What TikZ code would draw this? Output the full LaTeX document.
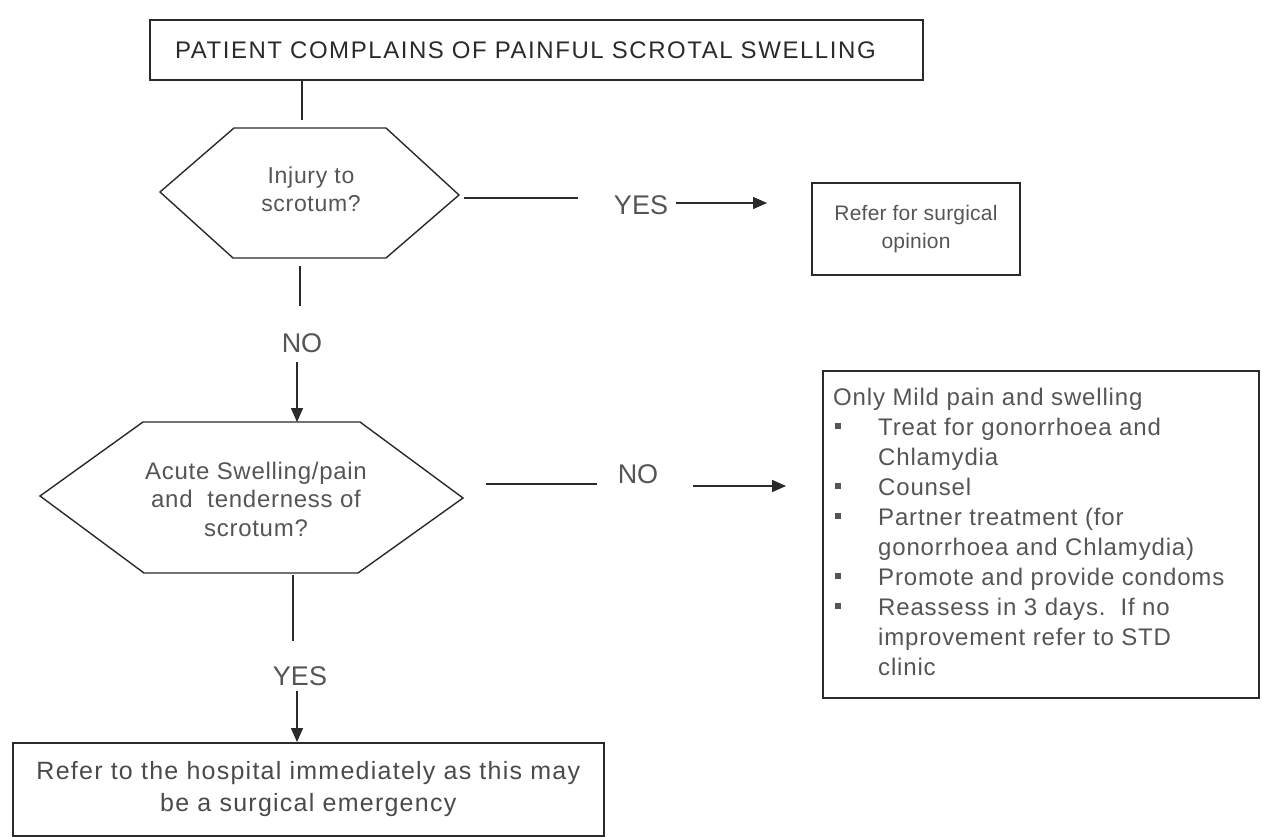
\documentclass[tikz,border=0pt]{standalone}
\usepackage{fontspec}
\setmainfont{Liberation Sans}
\usetikzlibrary{arrows.meta,calc}
\definecolor{ink}{HTML}{2A2A2A}
\definecolor{soft}{HTML}{555555}
\newcommand{\spacedby}[1]{\addfontfeature{LetterSpace=#1}}
\newcommand{\sqbullet}{\hspace{2pt}\rule[6pt]{6pt}{6pt}}
\begin{document}
\begin{tikzpicture}[x=1pt,y=-1pt,
  line/.style={draw=ink, line width=1.5pt},
  arrowline/.style={line, -{Triangle[length=14pt,width=12pt]}},
  boxnode/.style={draw=ink, line width=1.6pt, rectangle, inner sep=0pt},
  hexline/.style={draw=ink, line width=1.4pt, line join=miter},
  label/.style={text=soft, font=\fontsize{27}{28}\selectfont, inner sep=0pt},
  body/.style={text=soft, align=center, inner sep=0pt},
]
\useasboundingbox (0,0) rectangle (1262,837);

% start box
\node[boxnode, minimum width=773pt, minimum height=60pt, text width=723pt, inner xsep=25pt,
      align=left, font=\fontsize{24}{28}\selectfont\spacedby{6.5}, text=ink] (start) at (536.5,50)
  {PATIENT COMPLAINS OF PAINFUL SCROTAL SWELLING};

% first decision
\coordinate (h1L) at (160,192);
\coordinate (h1TL) at (234,128);
\coordinate (h1TR) at (386,128);
\coordinate (h1R) at (459,195);
\coordinate (h1BR) at (386,258);
\coordinate (h1BL) at (233,258);
\draw[hexline] (h1L) -- (h1TL) -- (h1TR) -- (h1R) -- (h1BR) -- (h1BL) -- cycle;
\node[body, font=\fontsize{23}{28}\selectfont\spacedby{3}] (injury) at (311,189) {Injury to\\scrotum?};

% second decision
\coordinate (h2L) at (40,496);
\coordinate (h2TL) at (143,422);
\coordinate (h2TR) at (360,422);
\coordinate (h2R) at (463,498);
\coordinate (h2BR) at (358,573);
\coordinate (h2BL) at (144,573);
\draw[hexline] (h2L) -- (h2TL) -- (h2TR) -- (h2R) -- (h2BR) -- (h2BL) -- cycle;
\node[body, font=\fontsize{24}{28.5}\selectfont\spacedby{3}] (acute) at (256,499)
  {Acute Swelling/pain\\and\ \ tenderness of\\scrotum?};

% outcome boxes
\node[boxnode, minimum width=208pt, minimum height=92pt, body,
      font=\fontsize{21}{28}\selectfont\spacedby{1}] (surg) at (916,229)
  {Refer for surgical\\opinion};

\node[boxnode, minimum width=436pt, minimum height=327pt, anchor=north west] (mild) at (822,370) {};
\node[text=soft, font=\fontsize{24}{30}\selectfont\spacedby{3.5}, anchor=north west,
      inner sep=0pt] (mildtext) at (833,384)
  {\begin{tabular}{@{}p{45pt}@{}l@{}}
   \multicolumn{2}{@{}l@{}}{Only Mild pain and swelling}\\
   \sqbullet & Treat for gonorrhoea and\\
             & Chlamydia\\
   \sqbullet & Counsel\\
   \sqbullet & Partner treatment (for\\
             & gonorrhoea and Chlamydia)\\
   \sqbullet & Promote and provide condoms\\
   \sqbullet & Reassess in 3 days.\ \ If no\\
             & improvement refer to STD\\
             & clinic
   \end{tabular}};

\node[boxnode, minimum width=591pt, minimum height=93pt, anchor=north west,
      font=\fontsize{25}{32}\selectfont\spacedby{5}, text=ink!85, align=center] (hosp) at (12,742)
  {Refer to the hospital immediately as this may\\be a surgical emergency};

% connectors
\coordinate (c0) at (302,120);
\draw[line] (start.south -| c0) -- (c0);

\coordinate (c1a) at (300,266);
\coordinate (c1b) at (300,306);
\draw[line] (c1a) -- (c1b);
\node[label] (no1) at (302,343) {NO};
\coordinate (c1c) at (297,362);
\draw[arrowline] (c1c) -- (h2TL -| c1c);

\coordinate (y1a) at (464,198);
\coordinate (y1b) at (578,198);
\draw[line] (y1a) -- (y1b);
\node[label] (yes1) at (641,205) {YES};
\coordinate (y1c) at (676,203);
\draw[arrowline] (y1c) -- (y1c -| 767,0);

\coordinate (n2a) at (486,484);
\coordinate (n2b) at (597,484);
\draw[line] (n2a) -- (n2b);
\node[label] (no2) at (638,474) {NO};
\coordinate (n2c) at (693,486);
\draw[arrowline] (n2c) -- (n2c -| 786,0);

\coordinate (y2a) at (293,575);
\coordinate (y2b) at (293,641);
\draw[line] (y2a) -- (y2b);
\node[label] (yes2) at (300,676) {YES};
\coordinate (y2c) at (297,691);
\draw[arrowline] (y2c) -- (hosp.north -| y2c);
\end{tikzpicture}
\end{document}
